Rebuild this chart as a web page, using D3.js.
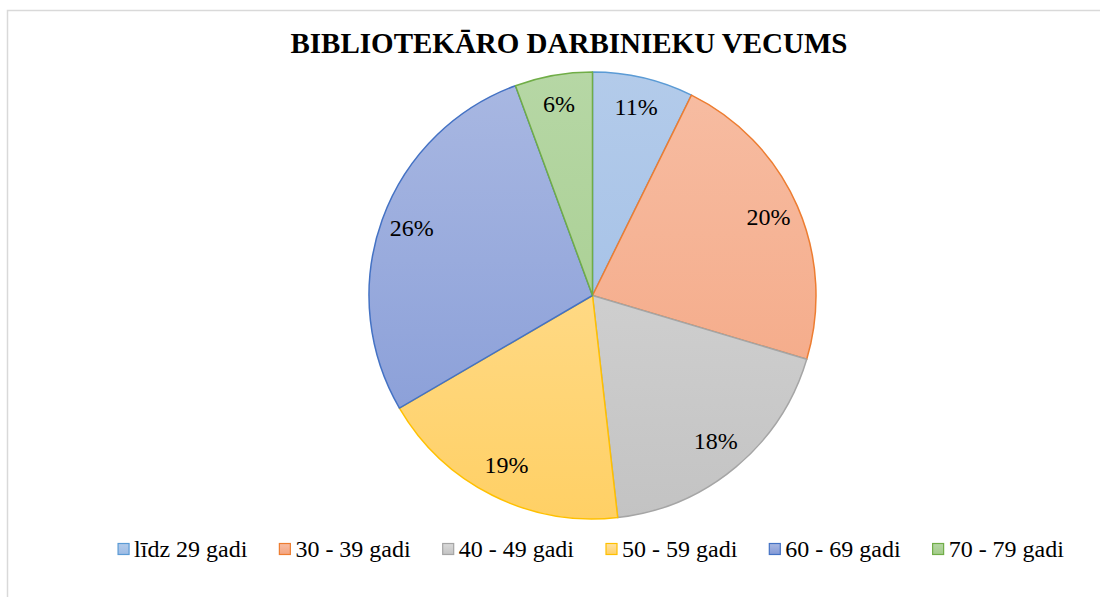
<!DOCTYPE html>
<html>
<head>
<meta charset="utf-8">
<script src="https://cdn.jsdelivr.net/npm/d3@7"></script>
<style>
  body { margin: 0; background: #fff; }
  svg { display: block; }
  text { font-family: "Times New Roman", "Liberation Serif", Tinos, serif; }
</style>
</head>
<body>
<div id="chart"></div>
<script>
// categories, slice sizes and the printed labels
var categories = ["līdz 29 gadi", "30 - 39 gadi", "40 - 49 gadi", "50 - 59 gadi", "60 - 69 gadi", "70 - 79 gadi"];
var values = [7.3, 22.3, 18.6, 18.4, 27.8, 5.6];
var labels = ["11%", "20%", "18%", "19%", "26%", "6%"];

var colors = ["#5b9bd5", "#ed7d31", "#a5a5a5", "#ffc000", "#4472c4", "#70ad47"];
var topColors = ["#b3cbea", "#f7bda3", "#dadada", "#ffe2a3", "#a9b8e2", "#b6d7a5"];
var bottomColors = ["#9cbbe5", "#f4a47f", "#c3c3c3", "#ffd065", "#8399d6", "#a2cb88"];

var width = 1100, height = 597;
var cx = 592.5, cy = 295.5, radius = 223.5;

var svg = d3.select("#chart")
  .append("svg")
  .attr("width", width)
  .attr("height", height);

// chart frame (runs past the right and bottom edge of the window)
svg.append("rect")
  .attr("x", 7.5)
  .attr("y", 10.5)
  .attr("width", 1200)
  .attr("height", 700)
  .attr("fill", "#fff")
  .attr("stroke", "#d9d9d9")
  .attr("stroke-width", 1.5);

svg.append("text")
  .attr("x", 569)
  .attr("y", 43)
  .attr("text-anchor", "middle")
  .attr("dominant-baseline", "central")
  .attr("font-weight", "bold")
  .attr("font-size", 29)
  .attr("fill", "#000")
  .text("BIBLIOTEKĀRO DARBINIEKU VECUMS");

var defs = svg.append("defs");

// vertical gradient per slice, spanning the whole pie (paths are translated to the centre)
categories.forEach(function(c, i) {
  var g = defs.append("linearGradient")
    .attr("id", "grad" + i)
    .attr("gradientUnits", "userSpaceOnUse")
    .attr("x1", 0).attr("y1", -radius)
    .attr("x2", 0).attr("y2", radius);
  g.append("stop").attr("offset", "0%").attr("stop-color", topColors[i]);
  g.append("stop").attr("offset", "100%").attr("stop-color", bottomColors[i]);

  var lg = defs.append("linearGradient")
    .attr("id", "lg" + i)
    .attr("x1", 0).attr("y1", 0).attr("x2", 0).attr("y2", 1);
  lg.append("stop").attr("offset", "0%").attr("stop-color", topColors[i]);
  lg.append("stop").attr("offset", "100%").attr("stop-color", bottomColors[i]);
});

var pie = d3.pie().sort(null).value(function(d) { return d; });
var arcs = pie(values);
var arc = d3.arc().innerRadius(0).outerRadius(radius);
var labelArc = d3.arc().innerRadius(192).outerRadius(192);

var slices = svg.append("g");

slices.selectAll("path")
  .data(arcs)
  .enter().append("path")
  .attr("d", arc)
  .attr("transform", "translate(" + cx + "," + cy + ")")
  .attr("fill", function(d, i) { return "url(#grad" + i + ")"; })
  .attr("stroke", function(d, i) { return colors[i]; })
  .attr("stroke-width", 1.5)
  .attr("stroke-linejoin", "round");

slices.selectAll("text")
  .data(arcs)
  .enter().append("text")
  .attr("transform", function(d) {
    var p = labelArc.centroid(d);
    return "translate(" + (cx + p[0]) + "," + (cy + p[1] - 2) + ")";
  })
  .attr("text-anchor", "middle")
  .attr("dominant-baseline", "central")
  .attr("font-size", 24)
  .attr("fill", "#000")
  .text(function(d, i) { return labels[i]; });

// legend, laid out from measured text widths and centred under the pie
var legend = svg.append("g");
var items = legend.selectAll("g")
  .data(categories)
  .enter().append("g");

items.append("rect")
  .attr("width", 11)
  .attr("height", 11)
  .attr("y", 543.5)
  .attr("fill", function(d, i) { return "url(#lg" + i + ")"; })
  .attr("stroke", function(d, i) { return colors[i]; })
  .attr("stroke-width", 1.2);

items.append("text")
  .attr("x", 16)
  .attr("y", 549)
  .attr("dominant-baseline", "central")
  .attr("font-size", 24)
  .attr("fill", "#000")
  .text(function(d) { return d; });

var gap = 32, xpos = 0, offsets = [];
items.each(function() {
  var w = 16 + d3.select(this).select("text").node().getComputedTextLength();
  offsets.push(xpos);
  xpos += w + gap;
});
var total = xpos - gap;
var start = 591 - total / 2;
items.attr("transform", function(d, i) { return "translate(" + (start + offsets[i]) + ",0)"; });
</script>
</body>
</html>
